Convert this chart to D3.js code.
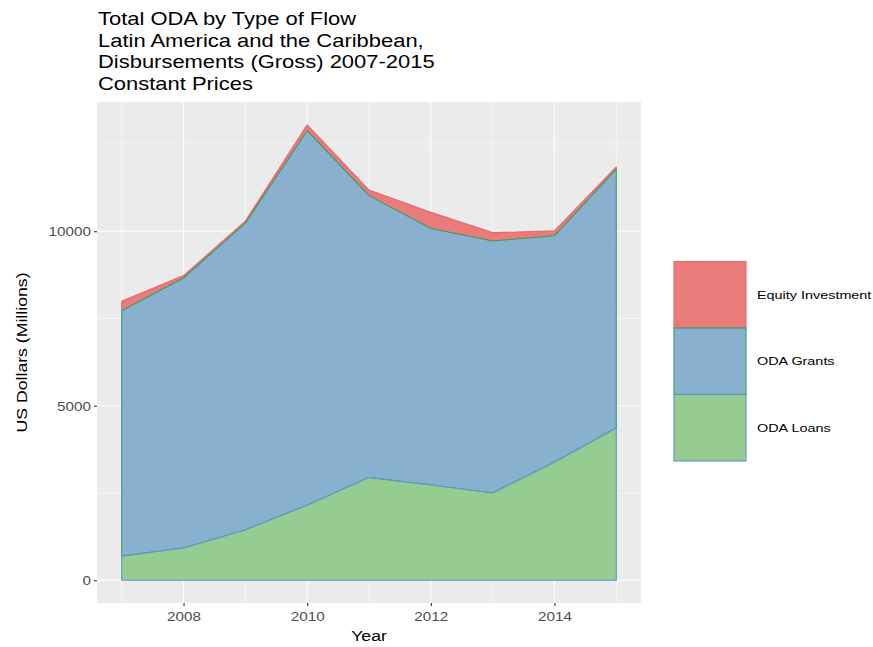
<!DOCTYPE html>
<html>
<head>
<meta charset="utf-8">
<script src="https://cdn.jsdelivr.net/npm/d3@7"></script>
<style>
  body { margin: 0; background: #fff; }
  svg { display: block; font-family: "Liberation Sans", Arial, sans-serif; }
</style>
</head>
<body>
<svg id="chart" width="873" height="647"></svg>
<script>
// ---- Data ----
const years = [2007, 2008, 2009, 2010, 2011, 2012, 2013, 2014, 2015];
const odaLoans = [690, 925, 1440, 2150, 2940, 2730, 2500, 3380, 4360];
const odaGrants = [7030, 7735, 8790, 10730, 8080, 7350, 7220, 6490, 7420];
const equityInvestment = [270, 70, 60, 170, 160, 460, 240, 140, 60];
const seriesNames = ["ODA Loans", "ODA Grants", "Equity Investment"]; // bottom to top
const legendOrder = ["Equity Investment", "ODA Grants", "ODA Loans"];
const xTicks = [2008, 2010, 2012, 2014];
const xMinor = [2007, 2009, 2011, 2013, 2015];
const yTicks = [0, 5000, 10000];
const yMinor = [2500, 7500, 12500];
const titleLines = ["Total ODA by Type of Flow", "Latin America and the Caribbean,",
  "Disbursements (Gross) 2007-2015", "Constant Prices"];

const fills = {"Equity Investment": "#E97B7B", "ODA Grants": "#8AB0D0", "ODA Loans": "#96CC92"};
const strokes = {"Equity Investment": "#E8686B", "ODA Grants": "#2FA35C", "ODA Loans": "#5A98C4"};
const SX = 1.22; // horizontal stretch of the reference's text rendering

const rows = years.map((y, i) => ({
  year: y,
  "ODA Loans": odaLoans[i],
  "ODA Grants": odaGrants[i],
  "Equity Investment": equityInvestment[i]
}));
const stacked = d3.stack().keys(seriesNames)(rows);
const maxTotal = d3.max(stacked[stacked.length - 1], d => d[1]);

const svg = d3.select("#chart");
const panel = {left: 97, right: 641, top: 102, bottom: 603};

const ypad = maxTotal * 0.05;
const y = d3.scaleLinear().domain([-ypad, maxTotal + ypad]).range([panel.bottom, panel.top]);
const xpad = (2015 - 2007) * 0.05;
const x = d3.scaleLinear().domain([2007 - xpad, 2015 + xpad]).range([panel.left, panel.right]);

function stretchedText(parent, tx, ty, str, size, anchor, rotate) {
  return parent.append("text")
    .attr("transform", `translate(${tx},${ty})` + (rotate ? ` rotate(${rotate})` : "") + ` scale(${SX},1)`)
    .attr("text-anchor", anchor || "start")
    .attr("font-size", size)
    .text(str);
}

// panel background
svg.append("rect").attr("x", panel.left).attr("y", panel.top)
  .attr("width", panel.right - panel.left).attr("height", panel.bottom - panel.top)
  .attr("fill", "#EBEBEB");

const grid = svg.append("g");
yMinor.forEach(v => grid.append("line").attr("x1", panel.left).attr("x2", panel.right)
  .attr("y1", y(v)).attr("y2", y(v)).attr("stroke", "#fff").attr("stroke-width", 0.55));
xMinor.forEach(v => grid.append("line").attr("y1", panel.top).attr("y2", panel.bottom)
  .attr("x1", x(v)).attr("x2", x(v)).attr("stroke", "#fff").attr("stroke-width", 0.55));
yTicks.forEach(v => grid.append("line").attr("x1", panel.left).attr("x2", panel.right)
  .attr("y1", y(v)).attr("y2", y(v)).attr("stroke", "#fff").attr("stroke-width", 1.1));
xTicks.forEach(v => grid.append("line").attr("y1", panel.top).attr("y2", panel.bottom)
  .attr("x1", x(v)).attr("x2", x(v)).attr("stroke", "#fff").attr("stroke-width", 1.1));

// areas: top series drawn first (ggplot group order), lower series outlines overlay
const area = d3.area().x(d => x(d.data.year)).y0(d => y(d[0])).y1(d => y(d[1]));
const drawOrder = stacked.slice().reverse();
svg.append("g").selectAll("path").data(drawOrder).join("path")
  .attr("d", s => area(s) + "Z")
  .attr("fill", s => fills[s.key])
  .attr("stroke", s => strokes[s.key])
  .attr("stroke-width", 1.1)
  .attr("stroke-linejoin", "round");

// axes (d3 axes for ticks; labels re-drawn with the stretched text style)
const axisCol = "#333333";
const fmt = d3.format("d");
const yAxis = svg.append("g").attr("transform", `translate(${panel.left},0)`)
  .call(d3.axisLeft(y).tickValues(yTicks).tickSize(3).tickFormat(fmt));
const xAxis = svg.append("g").attr("transform", `translate(0,${panel.bottom})`)
  .call(d3.axisBottom(x).tickValues(xTicks).tickSize(3).tickFormat(fmt));
[yAxis, xAxis].forEach(a => {
  a.select(".domain").remove();
  a.selectAll(".tick line").attr("stroke", axisCol).attr("stroke-width", 1.1);
  a.selectAll(".tick text").remove();
});
yAxis.selectAll(".tick").each(function(d) {
  stretchedText(d3.select(this), -6, 4.5, fmt(d), 12.5, "end").attr("fill", "#4D4D4D");
});
xAxis.selectAll(".tick").each(function(d) {
  stretchedText(d3.select(this), 0, 17.5, fmt(d), 12.5, "middle").attr("fill", "#4D4D4D");
});

// axis titles
stretchedText(svg, (panel.left + panel.right) / 2, 641, "Year", 14.5, "middle").attr("fill", "#000");
stretchedText(svg, 27, (panel.top + panel.bottom) / 2, "US Dollars (Millions)", 14.5, "middle", -90)
  .attr("fill", "#000");

// title
titleLines.forEach((t, i) => stretchedText(svg, 98, 25 + i * 21.7, t, 18, "start").attr("fill", "#000"));

// legend
const leg = svg.append("g");
const keyX = 674, keyW = 72, keyH = 66.5, keyTop = 261.5;
legendOrder.forEach((name, i) => {
  const ky = keyTop + i * keyH;
  leg.append("rect").attr("x", keyX).attr("y", ky).attr("width", keyW).attr("height", keyH)
    .attr("fill", fills[name]).attr("stroke", strokes[name]).attr("stroke-width", 1.1);
  stretchedText(leg, 757, ky + keyH / 2 + 4, name, 11.8, "start").attr("fill", "#000");
});
</script>
</body>
</html>
